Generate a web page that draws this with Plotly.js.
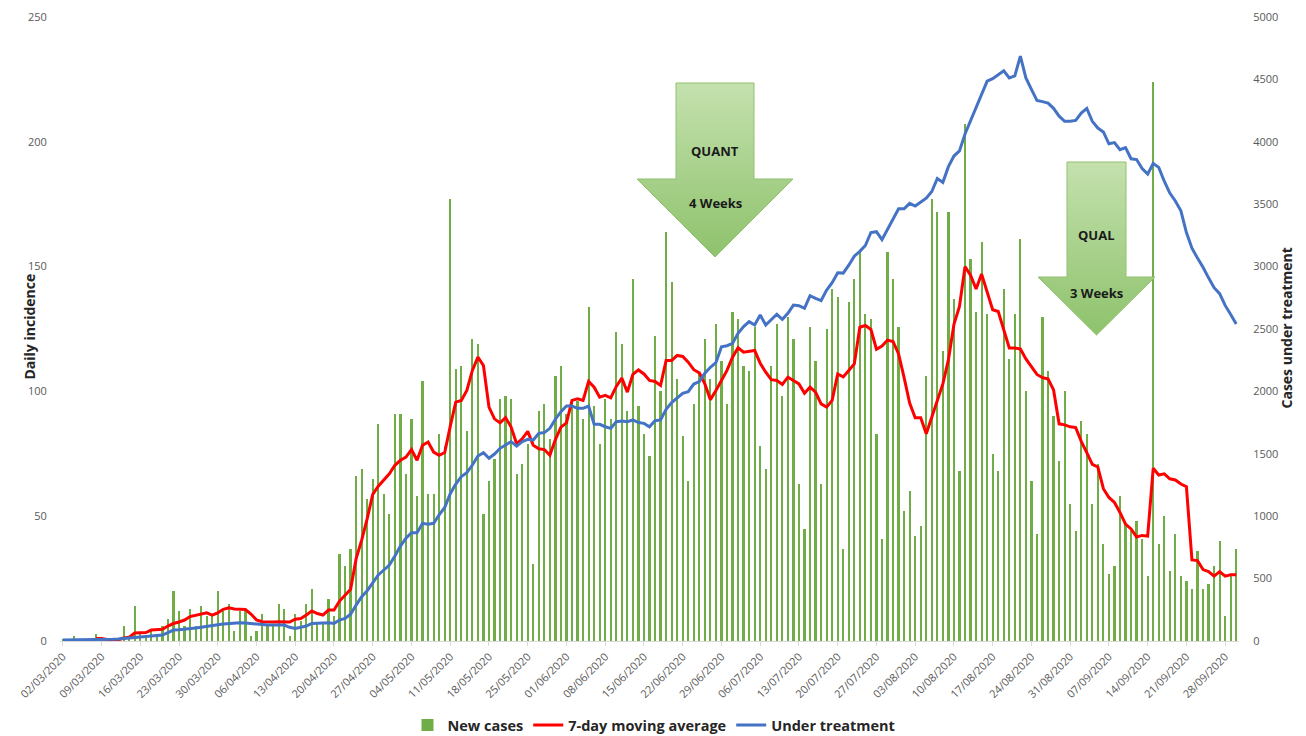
<!DOCTYPE html>
<html><head><meta charset="utf-8">
<script src="https://cdn.plot.ly/plotly-3.0.1.min.js"></script>
<style>html,body{margin:0;padding:0;background:#fff;}#chart{width:1306px;height:736px;}</style>
</head><body><div id="chart"></div>
<script>
// ---- data (one value per day, starting 02/03/2020) ----
const startDate = [2020, 2, 2]; // 2 March 2020
const newCases = [
1,1,2,0,0,0,3,1,0,0,
0,6,1,14,3,2,4,3,6,9,
20,12,6,13,6,14,10,10,20,12,
15,4,12,12,2,4,11,7,6,15,
13,2,11,8,15,21,7,7,17,10,
35,30,37,66,69,57,65,87,59,51,
91,91,67,89,58,104,59,59,83,78,
177,109,110,84,121,119,51,64,73,97,
98,97,67,71,79,31,92,95,81,106,
110,91,97,96,89,134,94,79,97,89,
124,119,92,145,94,83,74,122,100,164,
144,105,82,64,95,107,121,105,127,112,
95,132,129,110,108,126,78,69,110,127,
98,130,121,63,45,126,112,63,125,141,
138,37,136,145,156,131,129,83,41,156,
145,126,52,60,42,46,106,177,172,116,
172,137,68,207,153,132,160,131,75,68,
141,113,131,161,100,64,43,130,108,90,
72,100,55,44,88,83,55,71,39,27,
30,58,47,44,48,41,26,224,39,50,
28,43,26,24,21,36,21,23,30,40,
10,26,37];
const movingAverage = [
null,null,null,null,null,null,1,1,0.6,0.4,
0.4,1.2,1.5,3.2,3.2,3.4,4.4,4.5,4.7,6,
7,7.6,8.4,9.8,10.4,11,11.3,10.4,11.3,12.7,
13.3,12.8,12.8,12.6,10.8,8.4,7.7,7.5,7.6,7.7,
7.7,7.6,8.7,9,10.4,12,11,10.4,12.4,12.4,
16,18.4,20.7,33,40.4,49,58.7,62,64.4,67,
70.4,72.4,73.7,76.7,72.4,78.4,79.7,75.7,74.4,75.5,
86,95.7,96.4,100.4,108.4,113.7,110.4,93.7,89,87.4,
89.5,85.7,79,81,84,78.4,77,76.7,74.4,80.7,
85.7,87.4,96.4,97,96.4,104,101.7,97.7,98.4,97.4,
102,105.3,99.7,106.8,108.6,107,104.4,104,102.4,112.4,
112.4,114.4,114,111.7,108.7,107.4,103,96.7,100.4,104.4,
108.4,113.7,117.5,115.7,116,116.4,111.3,107.7,104.7,104.4,
102.8,105.7,104.4,103,99.3,101.7,99.7,95,93.7,96.4,
107,105.8,108.4,111,125.7,126.4,124.8,116.9,118.2,120.5,
120,115,105.5,95.3,89.4,89.4,83,90,96.4,103,
112.6,126.9,134,150,146.6,141,147,140,132.7,132,
124.5,117.4,117.4,117,113,110,106.8,105.5,105,100.6,
87,86.6,85.8,85.5,80,75.5,70.8,69.7,61,57.5,
55.5,51.5,46.8,44.9,41.7,42.3,42,69.2,66.5,67,
65,64.5,62.9,61.8,32.5,32.2,28.6,27.8,26,27.8,
26,26.5,26.5];
const underTreatment = [
8,8,8,8,10,10,10,10,12,14,
16,21,25,30,34,37,40,44,48,67,
88,90,93,101,105,110,115,120,130,136,
141,144,147,145,140,135,128,128,128,128,
128,110,101,110,120,141,143,145,147,141,
168,181,214,288,355,403,467,529,569,609,
681,761,823,868,868,943,935,943,1010,1070,
1180,1258,1317,1349,1410,1482,1509,1464,1498,1544,
1571,1597,1562,1597,1616,1610,1664,1670,1704,1777,
1838,1883,1883,1864,1864,1883,1736,1736,1717,1704,
1757,1763,1757,1771,1750,1744,1717,1765,1771,1857,
1910,1945,1985,1998,2059,2078,2145,2193,2230,2358,
2366,2385,2466,2519,2559,2532,2612,2532,2572,2618,
2578,2626,2692,2687,2666,2767,2746,2727,2812,2871,
2950,2948,3011,3084,3122,3169,3273,3280,3216,3295,
3374,3463,3463,3507,3485,3517,3548,3602,3706,3675,
3801,3886,3927,4063,4171,4265,4385,4486,4506,4537,
4569,4512,4528,4686,4512,4420,4332,4322,4310,4268,
4205,4164,4164,4171,4230,4268,4164,4110,4079,3984,
3994,3937,3953,3864,3858,3785,3741,3826,3795,3684,
3589,3526,3447,3273,3147,3068,2995,2910,2831,2783,
2689,2616,2540];
const seriesNames = ['New cases', '7-day moving average', 'Under treatment'];
const arrowTexts = [['QUANT', '4 Weeks'], ['QUAL', '3 Weeks']];

// ---- helpers ----
const DAY = 86400000;
const t0 = Date.UTC(startDate[0], startDate[1], startDate[2]);
const iso = ms => new Date(ms).toISOString().slice(0, 19).replace('T', ' ');
const dates = newCases.map((_, i) => iso(t0 + i * DAY));
const xRange = [iso(t0 - 0.5 * DAY), iso(t0 + (newCases.length - 0.5) * DAY)];

// plot area in pixels
const W = 1306, H = 736, PL = 60, PR = 1239, PT = 17, PB = 641;

// arrow geometry in pixel space (decoration)
function arrowPath(bodyL, bodyR, top, shoulder, headL, headR, tip) {
  const cx = (bodyL + bodyR) / 2;
  return {x: [bodyL, bodyR, bodyR, headR, cx, headL, bodyL, bodyL],
          y: [top, top, shoulder, shoulder, tip, shoulder, shoulder, top]};
}
const arrows = [
  {geo: arrowPath(676, 754, 83, 179, 637, 793, 257), t1: 151, t2: 203},
  {geo: arrowPath(1067, 1126, 162, 277, 1038, 1155, 335), t1: 235, t2: 293}
];

const traces = [
  {type: 'bar', x: dates, y: newCases, name: seriesNames[0],
   marker: {color: '#70ad47'}, width: 0.4 * DAY, hoverinfo: 'skip'},
  {type: 'scatter', mode: 'lines', x: dates, y: movingAverage, name: seriesNames[1],
   line: {color: '#ff0000', width: 3}, connectgaps: false},
  {type: 'scatter', mode: 'lines', x: dates, y: underTreatment, name: seriesNames[2], yaxis: 'y2',
   line: {color: '#4472c4', width: 3}}
];
const annotations = [];
arrows.forEach((a, k) => {
  traces.push({type: 'scatter', mode: 'lines', x: a.geo.x, y: a.geo.y, xaxis: 'x3', yaxis: 'y3',
    fill: 'toself', showlegend: false, hoverinfo: 'skip',
    line: {color: '#8fc16f', width: 1},
    fillgradient: {type: 'vertical', colorscale: [[0, '#8ec26c'], [1, '#c4e1ae']]}});
  const cx = (a.geo.x[0] + a.geo.x[1]) / 2;
  annotations.push({xref: 'x3', yref: 'y3', x: cx, y: a.t1, text: '<b>' + arrowTexts[k][0] + '</b>',
    showarrow: false, font: {family: 'Open Sans', size: 13, color: '#1a1a1a'}});
  annotations.push({xref: 'x3', yref: 'y3', x: cx, y: a.t2, text: '<b>' + arrowTexts[k][1] + '</b>',
    showarrow: false, font: {family: 'Open Sans', size: 13, color: '#1a1a1a'}});
});
const px2paperX = px => (px - PL) / (PR - PL);
const px2paperY = py => (PB - py) / (PB - PT);
annotations.push({xref: 'paper', yref: 'paper', x: px2paperX(17), y: px2paperY(327), textangle: -90,
  text: '<b>Daily incidence</b>', showarrow: false, font: {family: 'Open Sans', size: 14, color: '#262626'}});
annotations.push({xref: 'paper', yref: 'paper', x: px2paperX(1297), y: px2paperY(328), textangle: -90,
  text: '<b>Cases under treatment</b>', showarrow: false, font: {family: 'Open Sans', size: 14, color: '#262626'}});

const tickFont = {family: 'Open Sans', size: 11, color: '#595959'};
const layout = {
  width: W, height: H,
  margin: {l: PL, r: W - PR, t: PT, b: H - PB, pad: 0, autoexpand: false},
  paper_bgcolor: '#ffffff', plot_bgcolor: '#ffffff',
  showlegend: true,
  legend: {orientation: 'h', x: px2paperX(654), xanchor: 'center', y: px2paperY(725), yanchor: 'middle',
    font: {family: 'Open Sans', size: 14.5, color: '#262626', weight: 'bold'}, traceorder: 'normal',
    itemwidth: 30},
  bargap: 0,
  xaxis: {type: 'date', range: xRange, tick0: dates[0], dtick: 7 * DAY, tickformat: '%d/%m/%Y',
    tickangle: -45, tickfont: {family: 'Open Sans', size: 11, color: '#595959'},
    showgrid: false, zeroline: false, showline: true, linecolor: '#d9d9d9', linewidth: 1,
    ticks: 'outside', ticklen: 4, tickcolor: '#d9d9d9', automargin: false, fixedrange: true},
  yaxis: {range: [0, 250], dtick: 50, showgrid: false, zeroline: false, showline: false,
    tickfont: tickFont, ticks: 'outside', ticklen: 10, tickcolor: 'rgba(0,0,0,0)', automargin: false},
  yaxis2: {range: [0, 5000], dtick: 500, overlaying: 'y', side: 'right', showgrid: false, zeroline: false,
    showline: false, tickfont: tickFont, ticks: 'outside', ticklen: 11, tickcolor: 'rgba(0,0,0,0)', automargin: false},
  xaxis3: {overlaying: 'x', range: [PL, PR], visible: false, fixedrange: true},
  yaxis3: {overlaying: 'y', range: [PB, PT], visible: false, fixedrange: true},
  annotations: annotations
};
Plotly.newPlot('chart', traces, layout, {displayModeBar: false, staticPlot: true});
</script>
</body></html>
